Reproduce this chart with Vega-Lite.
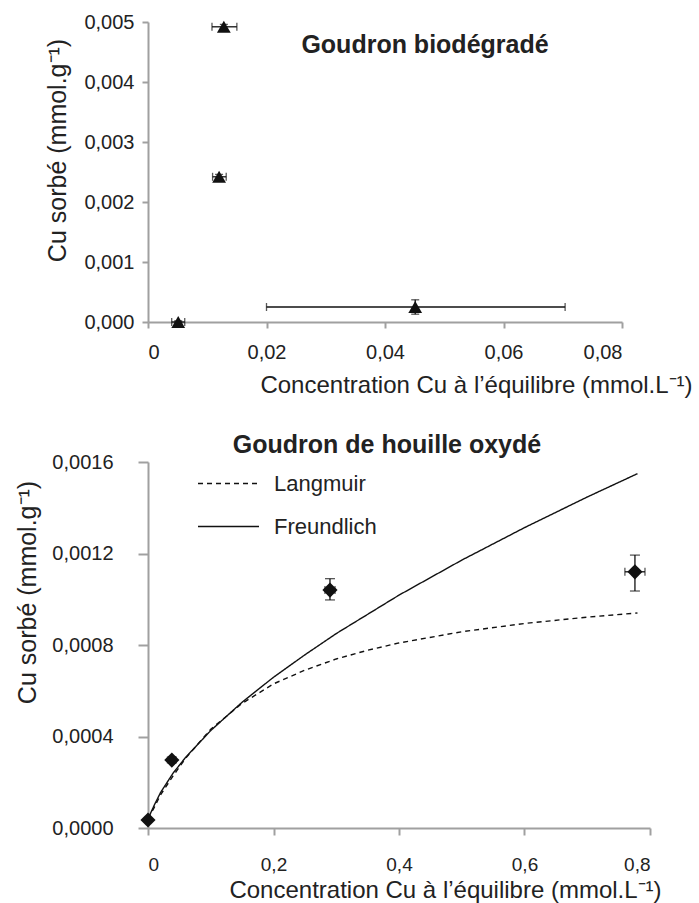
{
  "$schema": "https://vega.github.io/schema/vega-lite/v6.json",
  "padding": {"left": 15, "top": 12, "right": 2, "bottom": 3},
  "spacing": 36,
  "resolve": {"legend": {"strokeDash": "independent"}},
  "config": {
    "font": "Liberation Sans",
    "view": {"stroke": null},
    "axis": {
      "grid": false,
      "domainColor": "#a0a0a0",
      "domainWidth": 2,
      "tickColor": "#a0a0a0",
      "tickWidth": 2,
      "labelColor": "#222",
      "labelFontSize": 20,
      "labelFont": "Liberation Sans",
      "titleColor": "#222",
      "titleFontSize": 24,
      "titleFontWeight": "normal",
      "titleFont": "Liberation Sans",
      "titleAlign": "center",
      "titleBaseline": "middle"
    },
    "title": {"font": "Liberation Sans", "fontSize": 25, "fontWeight": "bold", "color": "#222"}
  },
  "vconcat": [
    {
      "width": 474,
      "height": 300,
      "title": {"text": "Goudron biodégradé", "anchor": "middle", "dx": 40, "dy": 50},
      "data": {"values": [
        {"x": 0.0051, "y": 0.0, "xlo": 0.0040, "xhi": 0.0062, "ylo": 0.0, "yhi": 0.00002},
        {"x": 0.0120, "y": 0.00242, "xlo": 0.0109, "xhi": 0.0132, "ylo": 0.00238, "yhi": 0.00246},
        {"x": 0.0128, "y": 0.00492, "xlo": 0.0108, "xhi": 0.0150, "ylo": 0.00488, "yhi": 0.00496},
        {"x": 0.0451, "y": 0.00025, "xlo": 0.0200, "xhi": 0.0704, "ylo": 0.00013, "yhi": 0.00037}
      ]},
      "layer": [
        {
          "mark": {"type": "errorbar", "color": "#111", "thickness": 1.3, "ticks": {"size": 8, "thickness": 1.3, "color": "#111"}},
          "encoding": {
            "x": {"field": "xlo", "type": "quantitative", "title": "Concentration Cu à l’équilibre (mmol.L⁻¹)", "scale": {"domain": [0, 0.08], "nice": false}},
            "x2": {"field": "xhi"},
            "y": {"field": "y", "type": "quantitative", "title": "Cu sorbé (mmol.g⁻¹)", "scale": {"domain": [0, 0.005], "nice": false}}
          }
        },
        {
          "mark": {"type": "errorbar", "color": "#111", "thickness": 1.3, "ticks": {"size": 8, "thickness": 1.3, "color": "#111"}},
          "encoding": {
            "x": {"field": "x", "type": "quantitative", "title": "Concentration Cu à l’équilibre (mmol.L⁻¹)", "scale": {"domain": [0, 0.08], "nice": false}},
            "y": {"field": "ylo", "type": "quantitative", "title": "Cu sorbé (mmol.g⁻¹)", "scale": {"domain": [0, 0.005], "nice": false}},
            "y2": {"field": "yhi"}
          }
        },
        {
          "mark": {"type": "point", "shape": "triangle-up", "filled": true, "color": "#111", "size": 190, "opacity": 1},
          "encoding": {
            "x": {"field": "x", "type": "quantitative", "title": "Concentration Cu à l’équilibre (mmol.L⁻¹)", "scale": {"domain": [0, 0.08], "nice": false},
              "axis": {"values": [0, 0.02, 0.04, 0.06, 0.08], "labelExpr": "datum.value == 0 ? '0' : replace(format(datum.value, '.2f'), '.', ',')", "tickSize": 6, "labelPadding": 14, "titleX": 328, "titleY": 63, "titleFontSize": 24}},
            "y": {"field": "y", "type": "quantitative", "title": "Cu sorbé (mmol.g⁻¹)", "scale": {"domain": [0, 0.005], "nice": false},
              "axis": {"values": [0, 0.001, 0.002, 0.003, 0.004, 0.005], "labelExpr": "replace(format(datum.value, '.3f'), '.', ',')", "tickSize": 6, "labelPadding": 8, "titleX": -91, "titleY": 128, "titleFontSize": 25}}
          }
        }
      ]
    },
    {
      "width": 502,
      "height": 366,
      "title": {"text": "Goudron de houille oxydé", "anchor": "middle", "dx": -12, "offset": -6},
      "layer": [
        {
          "data": {"values": [
            {"C": 0.0, "q": 0.00004, "model": "Langmuir"},
            {"C": 0.01, "q": 0.00009, "model": "Langmuir"},
            {"C": 0.02, "q": 0.000145, "model": "Langmuir"},
            {"C": 0.04, "q": 0.000228, "model": "Langmuir"},
            {"C": 0.06, "q": 0.000305, "model": "Langmuir"},
            {"C": 0.1, "q": 0.000432, "model": "Langmuir"},
            {"C": 0.15, "q": 0.000545, "model": "Langmuir"},
            {"C": 0.2, "q": 0.00063, "model": "Langmuir"},
            {"C": 0.25, "q": 0.00069, "model": "Langmuir"},
            {"C": 0.3, "q": 0.000739, "model": "Langmuir"},
            {"C": 0.35, "q": 0.000777, "model": "Langmuir"},
            {"C": 0.4, "q": 0.000809, "model": "Langmuir"},
            {"C": 0.5, "q": 0.000858, "model": "Langmuir"},
            {"C": 0.6, "q": 0.000894, "model": "Langmuir"},
            {"C": 0.7, "q": 0.000922, "model": "Langmuir"},
            {"C": 0.78, "q": 0.00094, "model": "Langmuir"},
            {"C": 0.0, "q": 0.00004, "model": "Freundlich"},
            {"C": 0.01, "q": 0.0001, "model": "Freundlich"},
            {"C": 0.02, "q": 0.000155, "model": "Freundlich"},
            {"C": 0.04, "q": 0.00024, "model": "Freundlich"},
            {"C": 0.06, "q": 0.000309, "model": "Freundlich"},
            {"C": 0.1, "q": 0.000426, "model": "Freundlich"},
            {"C": 0.15, "q": 0.00055, "model": "Freundlich"},
            {"C": 0.2, "q": 0.000659, "model": "Freundlich"},
            {"C": 0.25, "q": 0.000757, "model": "Freundlich"},
            {"C": 0.3, "q": 0.00085, "model": "Freundlich"},
            {"C": 0.4, "q": 0.001018, "model": "Freundlich"},
            {"C": 0.5, "q": 0.001171, "model": "Freundlich"},
            {"C": 0.6, "q": 0.001313, "model": "Freundlich"},
            {"C": 0.7, "q": 0.001447, "model": "Freundlich"},
            {"C": 0.78, "q": 0.001549, "model": "Freundlich"}
          ]},
          "mark": {"type": "line", "color": "#111", "strokeWidth": 1.4},
          "encoding": {
            "x": {"field": "C", "type": "quantitative", "title": "Concentration Cu à l’équilibre (mmol.L⁻¹)", "scale": {"domain": [0, 0.8], "nice": false},
              "axis": {"values": [0, 0.2, 0.4, 0.6, 0.8], "labelExpr": "datum.value == 0 ? '0' : replace(format(datum.value, '.1f'), '.', ',')", "tickSize": 7, "labelPadding": 20, "labelFontSize": 19, "titleX": 297, "titleY": 62, "titleFontSize": 24}},
            "y": {"field": "q", "type": "quantitative", "title": "Cu sorbé (mmol.g⁻¹)", "scale": {"domain": [0, 0.0016], "nice": false},
              "axis": {"values": [0, 0.0004, 0.0008, 0.0012, 0.0016], "labelExpr": "replace(format(datum.value, '.4f'), '.', ',')", "tickSize": 10, "labelPadding": 25, "titleX": -121, "titleY": 130, "titleFontSize": 25}},
            "strokeDash": {"field": "model", "type": "nominal", "scale": {"domain": ["Langmuir", "Freundlich"], "range": [[5, 4], [1, 0]]},
              "legend": {"title": null, "orient": "none", "legendX": 49, "legendY": -10, "symbolType": "stroke", "symbolSize": 3721, "symbolStrokeWidth": 1.4, "symbolStrokeColor": "#111", "labelFontSize": 22, "labelColor": "#222", "labelOffset": 14, "rowPadding": -17, "padding": 0}}
          }
        },
        {
          "data": {"values": [
            {"x": 0.0, "y": 0.000035, "xlo": 0.0, "xhi": 0.0, "ylo": 0.000035, "yhi": 0.000035},
            {"x": 0.038, "y": 0.000297, "xlo": 0.033, "xhi": 0.043, "ylo": 0.000285, "yhi": 0.00031},
            {"x": 0.290, "y": 0.00104, "xlo": 0.282, "xhi": 0.298, "ylo": 0.000997, "yhi": 0.00109},
            {"x": 0.776, "y": 0.00112, "xlo": 0.760, "xhi": 0.792, "ylo": 0.001036, "yhi": 0.001193}
          ]},
          "layer": [
            {
              "mark": {"type": "errorbar", "color": "#111", "thickness": 1.3, "ticks": {"size": 8, "thickness": 1.3, "color": "#111"}},
              "encoding": {
                "x": {"field": "xlo", "type": "quantitative", "title": "Concentration Cu à l’équilibre (mmol.L⁻¹)"},
                "x2": {"field": "xhi"},
                "y": {"field": "y", "type": "quantitative", "title": "Cu sorbé (mmol.g⁻¹)"}
              }
            },
            {
              "mark": {"type": "errorbar", "color": "#111", "thickness": 1.3, "ticks": {"size": 10, "thickness": 1.3, "color": "#111"}},
              "encoding": {
                "x": {"field": "x", "type": "quantitative", "title": "Concentration Cu à l’équilibre (mmol.L⁻¹)"},
                "y": {"field": "ylo", "type": "quantitative", "title": "Cu sorbé (mmol.g⁻¹)"},
                "y2": {"field": "yhi"}
              }
            },
            {
              "mark": {"type": "point", "shape": "diamond", "filled": true, "color": "#111", "size": 230, "opacity": 1},
              "encoding": {
                "x": {"field": "x", "type": "quantitative", "title": "Concentration Cu à l’équilibre (mmol.L⁻¹)"},
                "y": {"field": "y", "type": "quantitative", "title": "Cu sorbé (mmol.g⁻¹)"}
              }
            }
          ]
        }
      ]
    }
  ]
}
